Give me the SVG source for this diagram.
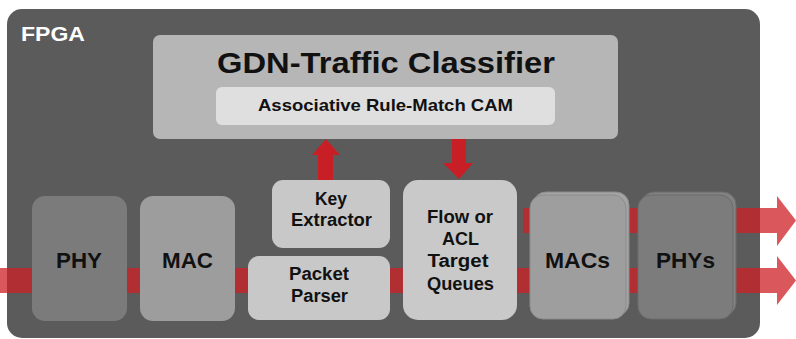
<svg xmlns="http://www.w3.org/2000/svg" width="796" height="339" viewBox="0 0 796 339">
<style>
text{font-family:"Liberation Sans",Arial,sans-serif;font-weight:bold;text-anchor:middle;fill:#111}
.lbl{font-size:22px}
.sm{font-size:17.5px}
.link{fill:#cd2026;fill-opacity:0.75}
.ctl{fill:#c81f27}
</style>
<rect width="796" height="339" fill="#ffffff"/>
<g id="fpga">
<rect x="7" y="9" width="753" height="329" rx="15" fill="#5b5b5b"/>
<text x="21" y="40.5" style="font-size:21px;fill:#ffffff;text-anchor:start" textLength="64" lengthAdjust="spacingAndGlyphs">FPGA</text>
</g>
<g id="connectors">
<rect class="link" x="0" y="268" width="32" height="25"/>
<rect class="link" x="127" y="268" width="13" height="25"/>
<rect class="link" x="235" y="268" width="13" height="25"/>
<rect class="link" x="390" y="268" width="13" height="25"/>
<rect class="link" x="523" y="208" width="7" height="25"/>
<rect class="link" x="517" y="268" width="13" height="25"/>
<rect class="link" x="626" y="208" width="12" height="25"/>
<rect class="link" x="626" y="268" width="12" height="25"/>
<path class="link" d="M733 208H777V196L796 220.5L777 246V233H733Z"/>
<path class="link" d="M733 268H777V256L796 280.5L777 305V293H733Z"/>
<path class="ctl" d="M318 180V155H312L326 139L340 155H333V180Z"/>
<path class="ctl" d="M452 139H466V163H473L459 179L443 163H452Z"/>
</g>
<g id="classifier">
<rect x="153" y="35" width="465" height="104" rx="7" fill="#b6b6b6"/>
<text x="386" y="73" style="font-size:30px" textLength="338" lengthAdjust="spacingAndGlyphs">GDN-Traffic Classifier</text>
</g>
<g id="cam">
<rect x="216" y="87" width="339" height="38" rx="6" fill="#dfdfdf"/>
<text x="385.5" y="111" style="font-size:17px" textLength="255" lengthAdjust="spacingAndGlyphs">Associative Rule-Match CAM</text>
</g>
<g id="phy">
<rect x="32" y="196" width="95" height="125" rx="13" fill="#7b7b7b"/>
<text class="lbl" x="79" y="267.5" textLength="46" lengthAdjust="spacingAndGlyphs">PHY</text>
</g>
<g id="mac">
<rect x="140" y="196" width="95" height="125" rx="13" fill="#9d9d9d"/>
<text class="lbl" x="187.5" y="267.5" textLength="51" lengthAdjust="spacingAndGlyphs">MAC</text>
</g>
<g id="key-extractor">
<rect x="272" y="180" width="118" height="68" rx="11" fill="#c8c8c8"/>
<text class="sm" x="331" y="205" textLength="32" lengthAdjust="spacingAndGlyphs">Key</text>
<text class="sm" x="331.5" y="226" textLength="81" lengthAdjust="spacingAndGlyphs">Extractor</text>
</g>
<g id="packet-parser">
<rect x="248" y="256" width="142" height="64" rx="11" fill="#c8c8c8"/>
<text class="sm" x="319" y="280" textLength="60" lengthAdjust="spacingAndGlyphs">Packet</text>
<text class="sm" x="319.5" y="302" textLength="57" lengthAdjust="spacingAndGlyphs">Parser</text>
</g>
<g id="flow-queues">
<rect x="403" y="180" width="114" height="140" rx="15" fill="#c9c9c9"/>
<text class="sm" x="460" y="223" textLength="66" lengthAdjust="spacingAndGlyphs">Flow or</text>
<text class="sm" x="460.5" y="245" textLength="37" lengthAdjust="spacingAndGlyphs">ACL</text>
<text class="sm" x="458" y="267" textLength="61" lengthAdjust="spacingAndGlyphs">Target</text>
<text class="sm" x="460.5" y="290" textLength="67" lengthAdjust="spacingAndGlyphs">Queues</text>
</g>
<g id="macs">
<rect x="533" y="192" width="96" height="124" rx="13" fill="#a4a4a4" stroke="#8a8a8a" stroke-width="1"/>
<rect x="530" y="195" width="96" height="124" rx="13" fill="#9e9e9e" stroke="#8c8c8c" stroke-width="1"/>
<text class="lbl" x="577.5" y="267.5" textLength="65" lengthAdjust="spacingAndGlyphs">MACs</text>
</g>
<g id="phys">
<rect x="641" y="192" width="95" height="124" rx="13" fill="#828282" stroke="#6c6c6c" stroke-width="1"/>
<rect x="638" y="195" width="95" height="124" rx="13" fill="#7c7c7c" stroke="#6c6c6c" stroke-width="1"/>
<text class="lbl" x="685.5" y="267.5" textLength="59" lengthAdjust="spacingAndGlyphs">PHYs</text>
</g>
</svg>
